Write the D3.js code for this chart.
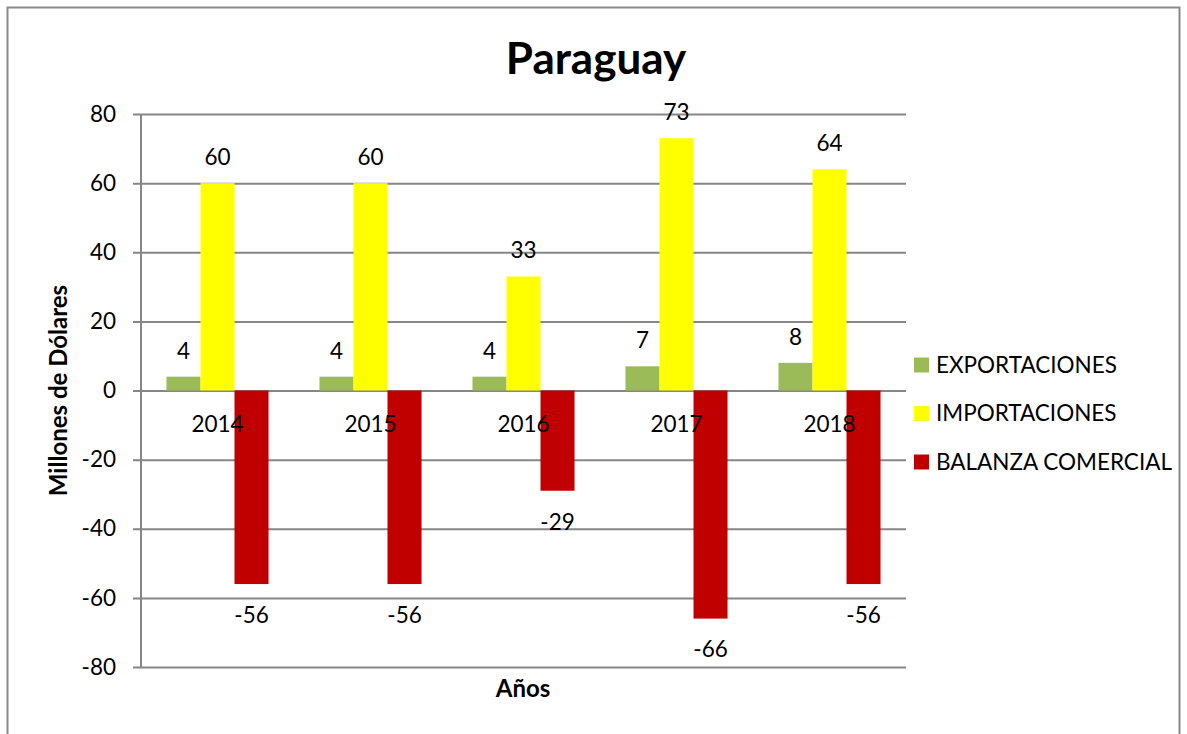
<!DOCTYPE html>
<html>
<head>
<meta charset="utf-8">
<script src="https://cdn.jsdelivr.net/npm/d3@7"></script>
<style>
  body { margin: 0; background: #fff; }
  text { font-family: Lato, "Open Sans", sans-serif; fill: #000; }
</style>
</head>
<body>
<div id="chart"></div>
<script>
// datos del grafico
var anios = ["2014", "2015", "2016", "2017", "2018"];
var series = ["EXPORTACIONES", "IMPORTACIONES", "BALANZA COMERCIAL"];
var exportaciones = [4, 4, 4, 7, 8];
var importaciones = [60, 60, 33, 73, 64];
var balanza = [-56, -56, -29, -66, -56];
var ticksY = [-80, -60, -40, -20, 0, 20, 40, 60, 80];
var colores = ["#9BBB59", "#FFFF00", "#C00000"];

var width = 1187, height = 734;
var margin = {top: 114, left: 141, right: 281, bottom: 67};
var fuente = "22.5px";

var svg = d3.select("#chart").append("svg")
    .attr("width", width)
    .attr("height", height);

// marco exterior
svg.append("rect")
    .attr("x", 7.5).attr("y", 7.5)
    .attr("width", 1172).attr("height", 760)
    .attr("fill", "none")
    .attr("stroke", "#898989")
    .attr("stroke-width", 2);

var y = d3.scaleLinear().domain([-80, 80]).range([height - margin.bottom, margin.top]);
var x = d3.scaleBand().domain(anios).range([margin.left, width - margin.right])
    .paddingInner(0.333).paddingOuter(0.1665);
var xs = d3.scaleBand().domain(series).range([0, x.bandwidth()]);

var datos = anios.map(function(a, i) {
    return {anio: a, valores: [exportaciones[i], importaciones[i], balanza[i]]};
});

// lineas de cuadricula y eje Y
var yaxis = svg.append("g")
    .attr("transform", "translate(" + margin.left + ",0)")
    .call(d3.axisLeft(y).tickValues(ticksY)
        .tickFormat(function(d) { return String(d); })
        .tickSizeInner(-(width - margin.right - margin.left)));
yaxis.select(".domain").remove();
yaxis.selectAll(".tick line")
    .attr("x1", -8)
    .attr("stroke", "#868686")
    .attr("stroke-width", 2);
yaxis.selectAll(".tick text")
    .style("font-size", fuente)
    .attr("x", -25);

svg.append("line")
    .attr("x1", margin.left).attr("x2", margin.left)
    .attr("y1", y(80)).attr("y2", y(-80))
    .attr("stroke", "#868686").attr("stroke-width", 2);

// barras
var grupos = svg.selectAll(".grupo")
    .data(datos)
    .enter().append("g")
    .attr("class", "grupo")
    .attr("transform", function(d) { return "translate(" + x(d.anio) + ",0)"; });

grupos.selectAll("rect")
    .data(function(d) { return d.valores.map(function(v, i) { return {serie: series[i], v: v, i: i}; }); })
    .enter().append("rect")
    .attr("x", function(d) { return xs(d.serie); })
    .attr("width", xs.bandwidth())
    .attr("y", function(d) { return y(Math.max(0, d.v)); })
    .attr("height", function(d) { return Math.abs(y(d.v) - y(0)); })
    .attr("fill", function(d) { return colores[d.i]; });

// etiquetas de valores
grupos.selectAll(".valor")
    .data(function(d) { return d.valores.map(function(v, i) { return {serie: series[i], v: v}; }); })
    .enter().append("text")
    .attr("class", "valor")
    .attr("x", function(d) { return xs(d.serie) + xs.bandwidth() / 2; })
    .attr("y", function(d) { return d.v >= 0 ? y(d.v) - 26 : y(d.v) + 31; })
    .attr("dy", "0.35em")
    .attr("text-anchor", "middle")
    .style("font-size", fuente)
    .text(function(d) { return d.v; });

// etiquetas de categoria en el eje 0
svg.selectAll(".anio")
    .data(anios)
    .enter().append("text")
    .attr("class", "anio")
    .attr("x", function(d) { return x(d) + x.bandwidth() / 2; })
    .attr("y", y(0) + 34)
    .attr("dy", "0.35em")
    .attr("text-anchor", "middle")
    .style("font-size", fuente)
    .text(function(d) { return d; });

// titulos
svg.append("text")
    .attr("x", 596).attr("y", 59)
    .attr("dy", "0.35em")
    .attr("text-anchor", "middle")
    .style("font-size", "44px")
    .style("font-weight", "bold")
    .text("Paraguay");

svg.append("text")
    .attr("transform", "translate(59," + y(0) + ") rotate(-90)")
    .attr("dy", "0.35em")
    .attr("text-anchor", "middle")
    .style("font-size", "24px")
    .style("font-weight", "bold")
    .text("Millones de Dólares");

svg.append("text")
    .attr("x", 523).attr("y", 689)
    .attr("dy", "0.35em")
    .attr("text-anchor", "middle")
    .style("font-size", "24px")
    .style("font-weight", "bold")
    .text("Años");

// leyenda
var leyenda = svg.selectAll(".leyenda")
    .data(series)
    .enter().append("g")
    .attr("class", "leyenda")
    .attr("transform", function(d, i) { return "translate(914," + (365 + i * 48.5) + ")"; });

leyenda.append("rect")
    .attr("x", 0).attr("y", -7.5)
    .attr("width", 15).attr("height", 15)
    .attr("fill", function(d, i) { return colores[i]; });

leyenda.append("text")
    .attr("x", 22).attr("y", 0)
    .attr("dy", "0.35em")
    .style("font-size", fuente)
    .text(function(d) { return d; });
</script>
</body>
</html>
